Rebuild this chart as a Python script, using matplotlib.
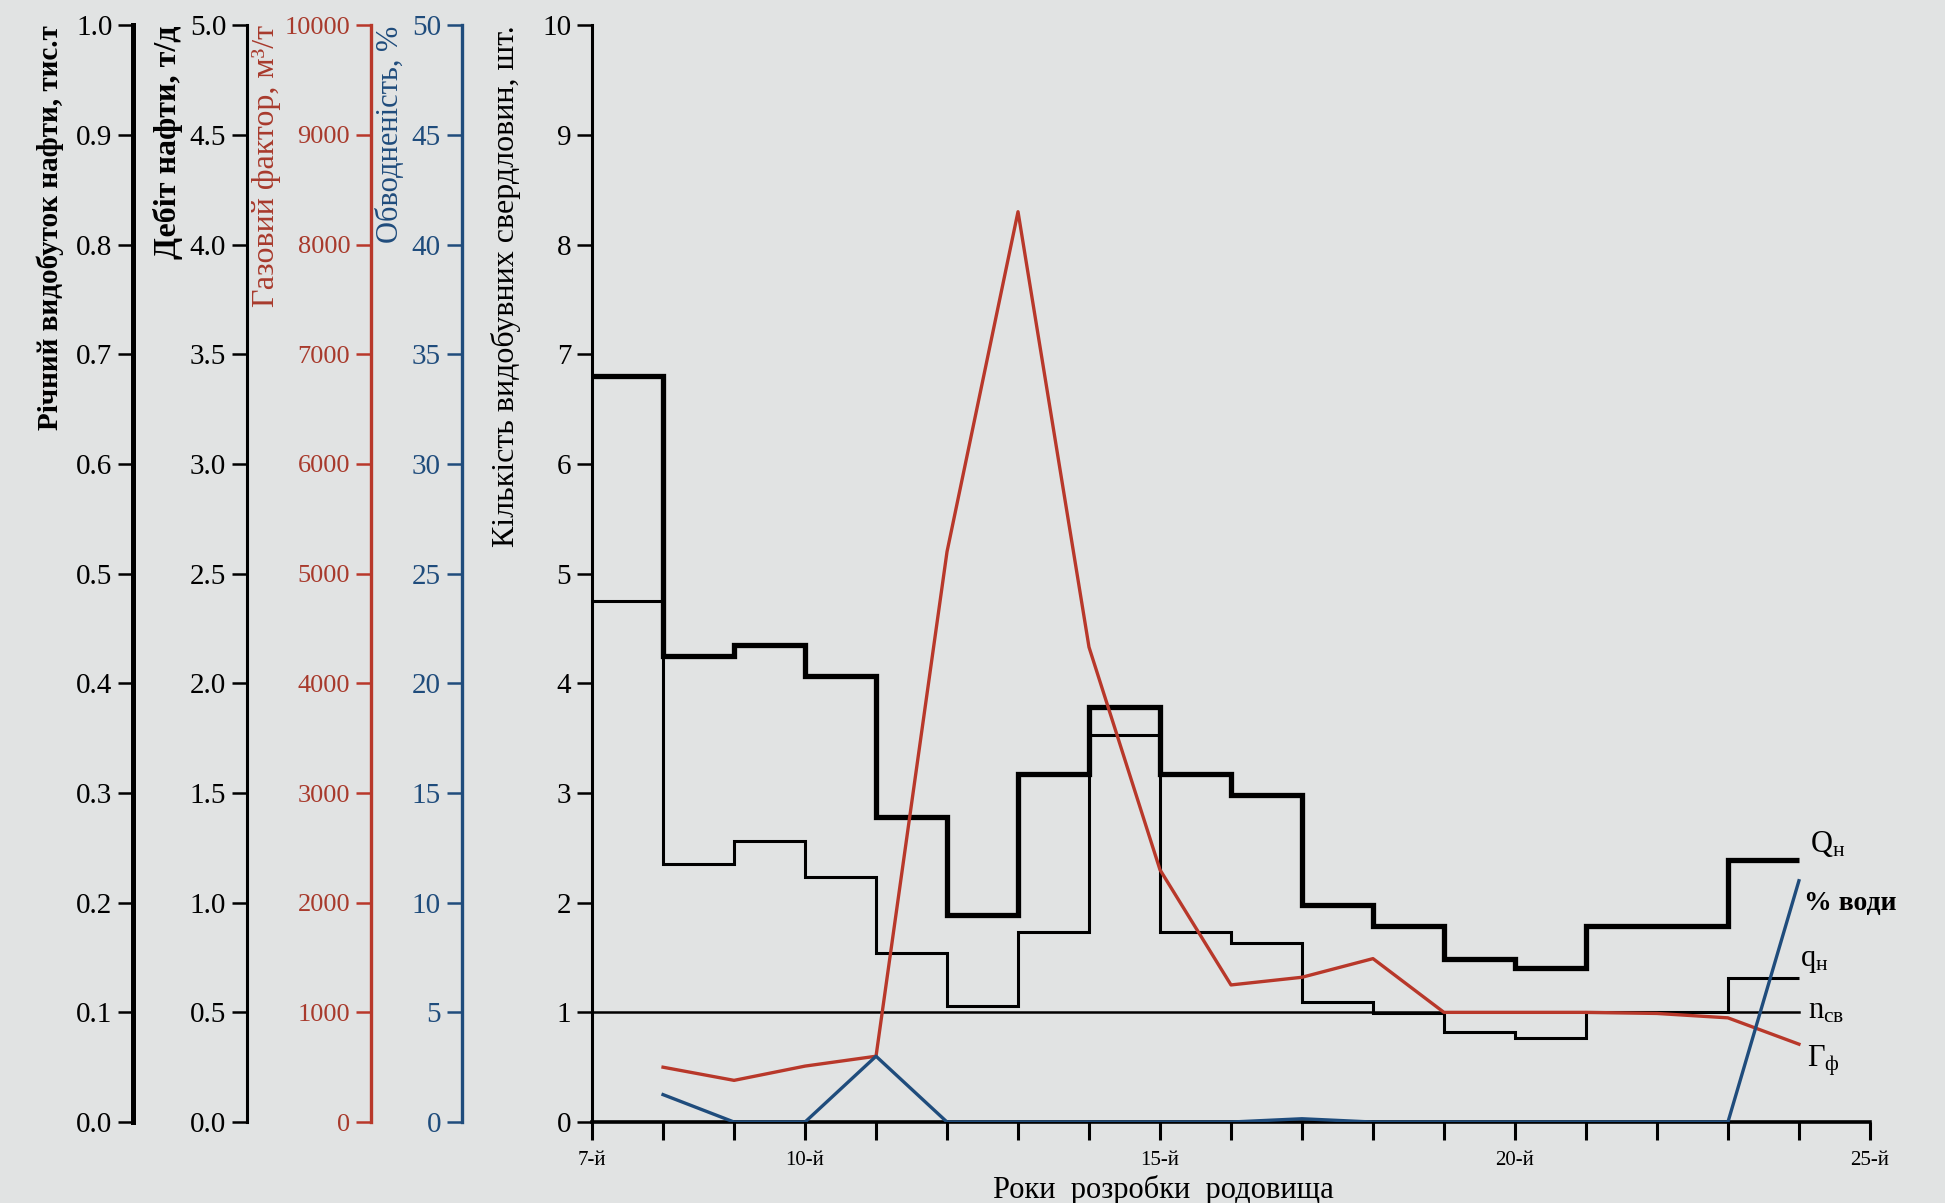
import numpy as np
import matplotlib.pyplot as plt

plt.rcParams['font.family'] = ['Liberation Serif', 'DejaVu Serif']
plt.rcParams['mathtext.fontset'] = 'custom'
plt.rcParams['mathtext.rm'] = 'Liberation Serif'
plt.rcParams['mathtext.it'] = 'Liberation Serif:italic'
plt.rcParams['mathtext.bf'] = 'Liberation Serif:bold'

# step edges for yearly values (year 7 .. year 24)
year_edges = np.arange(7, 25)
# річний видобуток нафти, тис.т
annual_oil = [0.68, 0.425, 0.435, 0.407, 0.278, 0.189, 0.317, 0.378, 0.317,
              0.298, 0.198, 0.179, 0.149, 0.140, 0.179, 0.179, 0.239]
# дебіт нафти, т/д
oil_rate = [2.375, 1.175, 1.28, 1.115, 0.77, 0.53, 0.865, 1.765, 0.865,
            0.815, 0.545, 0.495, 0.41, 0.385, 0.5, 0.5, 0.655]
# кількість свердловин
wells_years = np.arange(7, 25)
wells = [1] * 18
# газовий фактор і обводненість
point_years = np.arange(8, 25)
gas_factor = [500, 380, 510, 600, 5200, 8300, 4330, 2300, 1250, 1320, 1490,
              1000, 1000, 1000, 990, 950, 710]
water_cut = [1.25, 0, 0, 3.0, 0, 0, 0, 0, 0, 0.15, 0, 0, 0, 0, 0, 0, 11.0]

red = '#b8382a'
red_txt = '#a83a2c'
blue = '#1f4c7c'
bg = '#e1e3e3'

fig = plt.figure(figsize=(19.45, 12.03), dpi=100, facecolor=bg)
ax = fig.add_axes([0.3044, 0.0673, 0.6570, 0.9117])
ax.set_facecolor('none')

tick_kw = dict(labelsize=21, length=11, width=1.8, direction='out', pad=4)

# main axis: wells
ax.plot(wells_years, wells, color='black', lw=1.8, zorder=3)
ax.set_xlim(7, 25)
ax.set_ylim(0, 10)
ax.set_yticks(range(0, 11))
ax.tick_params(axis='y', **tick_kw)
ax.set_xticks(range(7, 26))
ax.set_xticklabels([f'{y}-й' if y in (7, 10, 15, 20, 25) else '' for y in range(7, 26)])
ax.tick_params(axis='x', labelsize=15, length=13, width=2.2, direction='out', pad=8)
for s in ('top', 'right'):
    ax.spines[s].set_visible(False)
ax.spines['left'].set_linewidth(2.2)
ax.spines['bottom'].set_linewidth(2.6)
ax.set_xlabel('Роки  розробки  родовища', fontsize=22)
ax.xaxis.set_label_coords(0.447, -0.048)
ax.text(-0.067, 1.0, 'Кількість видобувних свердловин, шт.', transform=ax.transAxes,
        rotation=90, ha='center', va='top', fontsize=23)


def side_axis(offset, color, lw, lim, ticks, fmt, label, lx, weight, tcolor,
              lsize=21, fsize=21):
    tw = ax.twinx()
    tw.set_facecolor('none')
    for s in ('top', 'right', 'bottom'):
        tw.spines[s].set_visible(False)
    tw.spines['left'].set_visible(True)
    tw.spines['left'].set_position(('axes', offset))
    tw.spines['left'].set_color(color)
    tw.spines['left'].set_linewidth(lw)
    tw.yaxis.tick_left()
    tw.set_ylim(*lim)
    tw.set_yticks(ticks)
    tw.set_yticklabels([fmt.format(t) for t in ticks])
    tw.tick_params(axis='y', colors=color, labelcolor=tcolor, labelsize=lsize,
                   length=11, width=1.8, direction='out', pad=4)
    tw.text(lx, 1.0, label, transform=ax.transAxes, rotation=90, ha='center',
            va='top', fontsize=fsize, color=tcolor, fontweight=weight)
    return tw


ax_q = side_axis(-0.359, 'black', 3.6, (0, 1.0), np.arange(0, 1.01, 0.1), '{:.1f}',
                 'Річний видобуток нафти, тис.т', -0.424, 'bold', 'black')
ax_r = side_axis(-0.270, 'black', 2.2, (0, 5.0), np.arange(0, 5.01, 0.5), '{:.1f}',
                 'Дебіт нафти, т/д', -0.332, 'bold', 'black', fsize=23)
ax_g = side_axis(-0.173, red, 2.4, (0, 10000), np.arange(0, 10001, 1000), '{:.0f}',
                 'Газовий фактор, м³/т', -0.255, 'normal', red_txt, lsize=19, fsize=23)
ax_w = side_axis(-0.102, blue, 2.4, (0, 50), np.arange(0, 51, 5), '{:.0f}',
                 'Обводненість, %', -0.158, 'normal', blue, fsize=22)

ax_q.stairs(annual_oil, year_edges, baseline=None, color='black', lw=3.8, zorder=4)
ax_r.stairs(oil_rate, year_edges, baseline=None, color='black', lw=2.2, zorder=4)
ax_g.plot(point_years, gas_factor, color=red, lw=2.4, zorder=5)
ax_w.plot(point_years, water_cut, color=blue, lw=2.4, zorder=5)

# curve labels at the right end
lab = dict(fontsize=22, va='baseline', ha='left', zorder=6)
ax.text(24.15, 2.46, r'Q$_\mathrm{н}$', **lab)
ax.text(24.07, 1.93, '% води', fontweight='bold', fontsize=20,
        va='baseline', ha='left', zorder=6)
ax.text(24.01, 1.42, r'q$_\mathrm{н}$', **lab)
ax.text(24.13, 0.94, r'n$_\mathrm{св}$', **lab)
ax.text(24.11, 0.51, r'Г$_\mathrm{ф}$', **lab)

fig.savefig('out.png', dpi=100, facecolor=bg)
